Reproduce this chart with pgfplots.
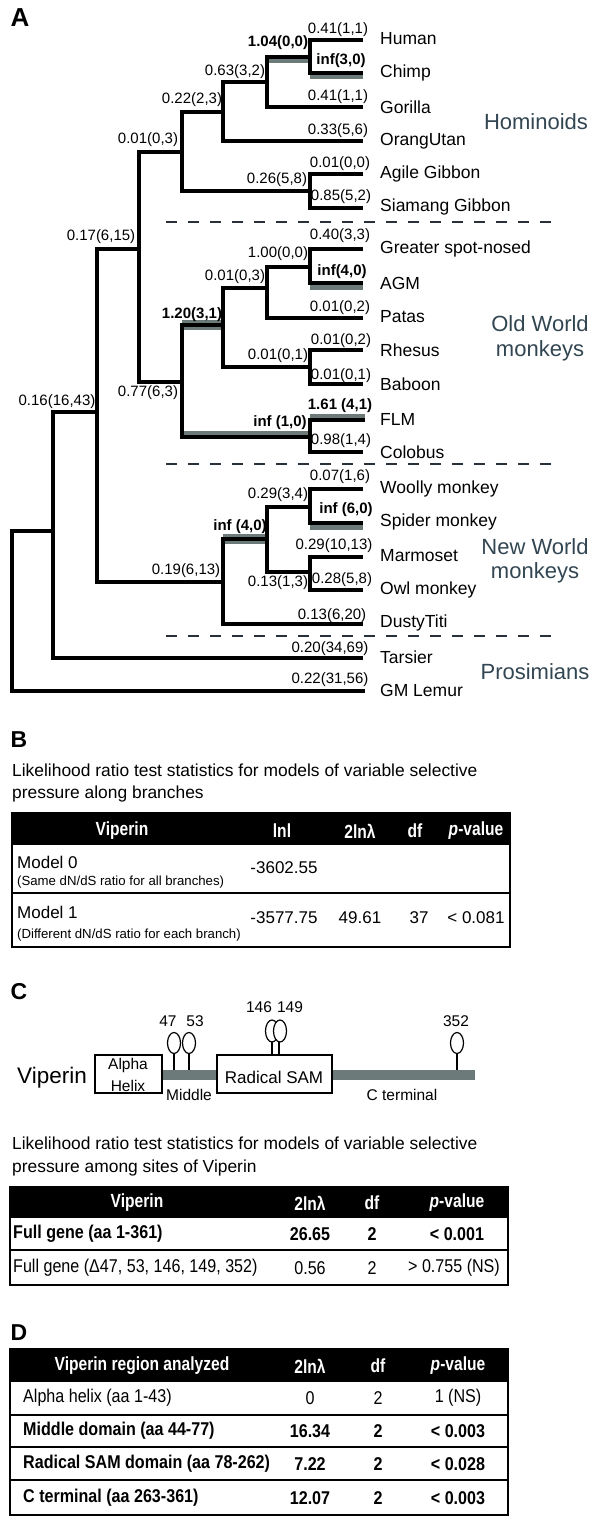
\documentclass[border=0pt]{standalone}
\usepackage{fontspec}
\setmainfont{Liberation Sans}
\newfontfamily\narrowfont{Liberation Sans}[FakeStretch=0.87]
\newfontfamily\hdrfont{Liberation Sans}[FakeStretch=0.82]
\usepackage{pgfplots}
\pgfplotsset{compat=1.18}
\definecolor{band}{RGB}{108,122,122}
\definecolor{grp}{RGB}{50,70,82}
\definecolor{dashc}{RGB}{40,48,58}
\newcommand{\fs}[1]{\fontsize{#1}{#1}\selectfont}
\begin{document}
\begin{tikzpicture}
\begin{axis}[hide axis, scale only axis, width=600pt, height=1525pt,
  xmin=0, xmax=600, ymin=0, ymax=1525, y dir=reverse, clip=false]
\path (0,0) rectangle (600,1525);
% ---------------- Panel A: tree ----------------
\node[font=\bfseries\fs{26}] at (20,18) {A};
% grey highlight bands
\addplot[band, line width=8pt] coordinates {(267,59.5) (310,59.5)};
\addplot[band, line width=8pt] coordinates {(310,75.5) (363,75.5)};
\addplot[band, line width=8pt] coordinates {(310,285.5) (363,285.5)};
\addplot[band, line width=10pt] coordinates {(182,325) (223,325)};
\addplot[band, line width=8pt] coordinates {(182,434.5) (310,434.5)};
\addplot[band, line width=8pt] coordinates {(310,417.5) (365,417.5)};
\addplot[band, line width=10pt] coordinates {(223,539) (267,539)};
\addplot[band, line width=8pt] coordinates {(310,525.5) (363,525.5)};
% tree brackets
\pgfplotsset{tree/.style={black, line width=3.2pt, no markers}}
\addplot[tree] coordinates {(363,40) (310,40) (310,73) (363,73)};
\addplot[tree] coordinates {(310,57) (267,57) (267,107) (363,107)};
\addplot[tree] coordinates {(267,82) (223,82) (223,141) (363,141)};
\addplot[tree] coordinates {(363,174) (310,174) (310,208) (363,208)};
\addplot[tree] coordinates {(223,112) (182,112) (182,191) (310,191)};
\addplot[tree] coordinates {(363,249) (310,249) (310,283) (363,283)};
\addplot[tree] coordinates {(310,267) (267,267) (267,318) (363,318)};
\addplot[tree] coordinates {(363,350) (310,350) (310,384) (363,384)};
\addplot[tree] coordinates {(267,288) (223,288) (223,367) (310,367)};
\addplot[tree] coordinates {(365,420) (310,420) (310,452) (363,452)};
\addplot[tree] coordinates {(223,325) (182,325) (182,437) (310,437)};
\addplot[tree] coordinates {(182,152) (139,152) (139,382) (182,382)};
\addplot[tree] coordinates {(363,489) (310,489) (310,523) (363,523)};
\addplot[tree] coordinates {(363,557) (310,557) (310,590) (363,590)};
\addplot[tree] coordinates {(310,507) (267,507) (267,572) (310,572)};
\addplot[tree] coordinates {(267,539) (223,539) (223,624) (363,624)};
\addplot[tree] coordinates {(139,249) (97,249) (97,582) (223,582)};
\addplot[tree] coordinates {(97,412) (53,412) (53,658) (363,658)};
\addplot[tree] coordinates {(53,531) (12,531) (12,691) (365,691)};
% dashed separators
\pgfplotsset{sep/.style={dashc, line width=2.5pt, dash pattern=on 11pt off 11pt, no markers}}
\addplot[sep] coordinates {(166,222) (560,222)};
\addplot[sep] coordinates {(166,464) (560,464)};
\addplot[sep] coordinates {(166,636) (560,636)};
% species labels
\begin{scope}[every node/.style={anchor=west, font=\fs{17.5}, inner sep=0pt}]
\node at (380,39) {Human};
\node at (380,73) {Chimp};
\node at (380,107) {Gorilla};
\node at (380,141) {OrangUtan};
\node at (380,174) {Agile Gibbon};
\node at (380,207) {Siamang Gibbon};
\node at (380,249) {Greater spot-nosed};
\node at (380,283) {AGM};
\node at (380,317) {Patas};
\node at (380,350) {Rhesus};
\node at (380,384) {Baboon};
\node at (380,419) {FLM};
\node at (380,452) {Colobus};
\node at (380,489) {Woolly monkey};
\node at (380,522) {Spider monkey};
\node at (380,556) {Marmoset};
\node at (380,590) {Owl monkey};
\node at (380,623) {DustyTiti};
\node at (380,657) {Tarsier};
\node at (380,690) {GM Lemur};
\end{scope}
% group labels
\begin{scope}[every node/.style={font=\fs{22}, text=grp, inner sep=0pt, align=center}]
\node at (536,122) {Hominoids};
\node at (540,324) {Old World};
\node at (540,351) {monkeys};
\node at (535,547) {New World};
\node at (535,573) {monkeys};
\node at (535,672) {Prosimians};
\end{scope}
% branch labels
\begin{scope}[every node/.style={font=\fs{15}, inner sep=0pt}]
\node[font=\bfseries\fs{15}] at (278,43) {1.04(0,0)};
\node at (338,30) {0.41(1,1)};
\node[font=\bfseries\fs{15}] at (341,61) {inf(3,0)};
\node at (235,72) {0.63(3,2)};
\node at (338,97) {0.41(1,1)};
\node at (192,100) {0.22(2,3)};
\node at (338,131) {0.33(5,6)};
\node at (148,140) {0.01(0,3)};
\node at (277,180) {0.26(5,8)};
\node at (340,164) {0.01(0,0)};
\node at (341,197) {0.85(5,2)};
\node at (101,237) {0.17(6,15)};
\node at (340,236) {0.40(3,3)};
\node at (278,254) {1.00(0,0)};
\node[font=\bfseries\fs{15}] at (342,272) {inf(4,0)};
\node at (235,277) {0.01(0,3)};
\node at (340,308) {0.01(0,2)};
\node[font=\bfseries\fs{15}] at (192,315) {1.20(3,1)};
\node at (341,341) {0.01(0,2)};
\node at (278,356) {0.01(0,1)};
\node at (341,376) {0.01(0,1)};
\node[font=\bfseries\fs{15}] at (340,406) {1.61 (4,1)};
\node[font=\bfseries\fs{15}] at (280,423) {inf (1,0)};
\node at (341,441) {0.98(1,4)};
\node at (148,393) {0.77(6,3)};
\node at (57,402) {0.16(16,43)};
\node at (340,477) {0.07(1,6)};
\node at (278,495) {0.29(3,4)};
\node[font=\bfseries\fs{15}] at (346,510) {inf (6,0)};
\node[font=\bfseries\fs{15}] at (240,527) {inf (4,0)};
\node at (334,546) {0.29(10,13)};
\node at (186,571) {0.19(6,13)};
\node at (278,583) {0.13(1,3)};
\node at (342,580) {0.28(5,8)};
\node at (332,616) {0.13(6,20)};
\node at (330,649) {0.20(34,69)};
\node at (330,680) {0.22(31,56)};
\end{scope}
% ---------------- Panel B ----------------
\node[font=\bfseries\fs{23}] at (19,740) {B};
\node[anchor=west, font=\fs{17.4}, inner sep=0pt] at (12,770) {Likelihood ratio test statistics for models of variable selective};
\node[anchor=west, font=\fs{17.4}, inner sep=0pt] at (12,794) {pressure along branches};
\fill[black] (12,813) rectangle (510,845);
\draw[line width=2pt] (12,813) rectangle (510,947);
\draw[line width=1.5pt] (12,893) -- (510,893);
\begin{scope}[every node/.style={font=\hdrfont\bfseries\fs{19}, text=white, inner sep=0pt}]
\node at (122,831) {Viperin};
\node at (282,831) {lnl};
\node at (360,831) {2lnλ};
\node at (415,831) {df};
\node at (476,831) {\textit{p}-value};
\end{scope}
\begin{scope}[every node/.style={font=\fs{17}, inner sep=0pt}]
\node[anchor=west] at (17,862) {Model 0};
\node[anchor=west, font=\fs{13.2}] at (17,882) {(Same dN/dS ratio for all branches)};
\node at (284,868) {-3602.55};
\node[anchor=west] at (17,912) {Model 1};
\node[anchor=west, font=\fs{13.2}] at (17,935) {(Different dN/dS ratio for each branch)};
\node at (284,918) {-3577.75};
\node at (360,918) {49.61};
\node at (419,918) {37};
\node at (476,918) {< 0.081};
\end{scope}
% ---------------- Panel C ----------------
\node[font=\bfseries\fs{23}] at (19,992) {C};
\fill[band] (160,1070) rectangle (475,1080);
\draw[line width=1.6pt, fill=white] (95,1055) rectangle (162,1093);
\draw[line width=1.6pt, fill=white] (217,1055) rectangle (332,1093);
% lollipops
\draw[line width=2.4pt] (174,1070) -- (174,1053);
\draw[line width=2.4pt] (189,1070) -- (189,1053);
\draw[line width=2.4pt] (272,1055) -- (272,1041);
\draw[line width=2.4pt] (279,1055) -- (279,1041);
\draw[line width=2.4pt] (457,1070) -- (457,1053);
\draw[line width=1.2pt, fill=white] (174,1043) ellipse [x radius=6.5, y radius=10.5];
\draw[line width=1.2pt, fill=white] (189,1043) ellipse [x radius=6.5, y radius=10.5];
\draw[line width=1.2pt, fill=white] (272,1031) ellipse [x radius=6.5, y radius=11];
\draw[line width=1.2pt, fill=white] (280,1031) ellipse [x radius=6.5, y radius=11];
\draw[line width=1.2pt, fill=white] (457,1043) ellipse [x radius=6.5, y radius=10.5];
\begin{scope}[every node/.style={font=\fs{15.5}, inner sep=0pt}]
\node at (168,1021) {47};
\node at (195,1021) {53};
\node at (259,1007) {146};
\node at (290,1007) {149};
\node at (456,1021) {352};
\end{scope}
\node[font=\fs{22.5}, inner sep=0pt] at (52,1078) {Viperin};
\node[font=\fs{15.5}, inner sep=0pt] at (128,1065) {Alpha};
\node[font=\fs{15.5}, inner sep=0pt] at (128,1086) {Helix};
\node[font=\fs{17}, inner sep=0pt] at (274,1077) {Radical SAM};
\node[font=\fs{15.5}, inner sep=0pt] at (189,1095) {Middle};
\node[font=\fs{15.5}, inner sep=0pt] at (402,1095) {C terminal};
\node[anchor=west, font=\fs{17.4}, inner sep=0pt] at (12,1143) {Likelihood ratio test statistics for models of variable selective};
\node[anchor=west, font=\fs{17.4}, inner sep=0pt] at (12,1168) {pressure among sites of Viperin};
\fill[black] (10,1187) rectangle (508,1218);
\draw[line width=2pt] (10,1187) rectangle (508,1285);
\draw[line width=1.5pt] (10,1250) -- (508,1250);
\begin{scope}[every node/.style={font=\hdrfont\bfseries\fs{19}, text=white, inner sep=0pt}]
\node at (137,1203) {Viperin};
\node at (310,1203) {2lnλ};
\node at (372,1203) {df};
\node at (457,1203) {\textit{p}-value};
\end{scope}
\begin{scope}[every node/.style={font=\narrowfont\fs{18.5}, inner sep=0pt}]
\node[anchor=west, font=\narrowfont\bfseries\fs{18.5}] at (13,1234) {Full gene (aa 1-361)};
\node[font=\narrowfont\bfseries\fs{18.5}] at (310,1234) {26.65};
\node[font=\narrowfont\bfseries\fs{18.5}] at (372,1234) {2};
\node[font=\narrowfont\bfseries\fs{18.5}] at (457,1234) {< 0.001};
\node[anchor=west] at (13,1268) {Full gene (Δ47, 53, 146, 149, 352)};
\node at (310,1268) {0.56};
\node at (372,1268) {2};
\node at (454,1268) {> 0.755 (NS)};
\end{scope}
% ---------------- Panel D ----------------
\node[font=\bfseries\fs{23}] at (19,1333) {D};
\fill[black] (10,1349) rectangle (508,1382);
\draw[line width=2pt] (10,1349) rectangle (508,1515);
\draw[line width=1.5pt] (10,1415) -- (508,1415);
\draw[line width=1.5pt] (10,1447) -- (508,1447);
\draw[line width=1.5pt] (10,1480) -- (508,1480);
\begin{scope}[every node/.style={font=\hdrfont\bfseries\fs{19}, text=white, inner sep=0pt}]
\node at (142,1366) {Viperin region analyzed};
\node at (310,1366) {2lnλ};
\node at (378,1366) {df};
\node at (458,1366) {\textit{p}-value};
\end{scope}
\begin{scope}[every node/.style={font=\narrowfont\fs{18.5}, inner sep=0pt}]
\node[anchor=west] at (23,1398) {Alpha helix (aa 1-43)};
\node at (310,1398) {0};
\node at (378,1398) {2};
\node at (458,1398) {1 (NS)};
\end{scope}
\begin{scope}[every node/.style={font=\narrowfont\bfseries\fs{18.5}, inner sep=0pt}]
\node[anchor=west] at (23,1431) {Middle domain (aa 44-77)};
\node at (310,1431) {16.34};
\node at (378,1431) {2};
\node at (458,1431) {< 0.003};
\node[anchor=west] at (23,1464) {Radical SAM domain (aa 78-262)};
\node at (310,1464) {7.22};
\node at (378,1464) {2};
\node at (458,1464) {< 0.028};
\node[anchor=west] at (23,1498) {C terminal (aa 263-361)};
\node at (310,1498) {12.07};
\node at (378,1498) {2};
\node at (458,1498) {< 0.003};
\end{scope}
\end{axis}
\end{tikzpicture}
\end{document}
